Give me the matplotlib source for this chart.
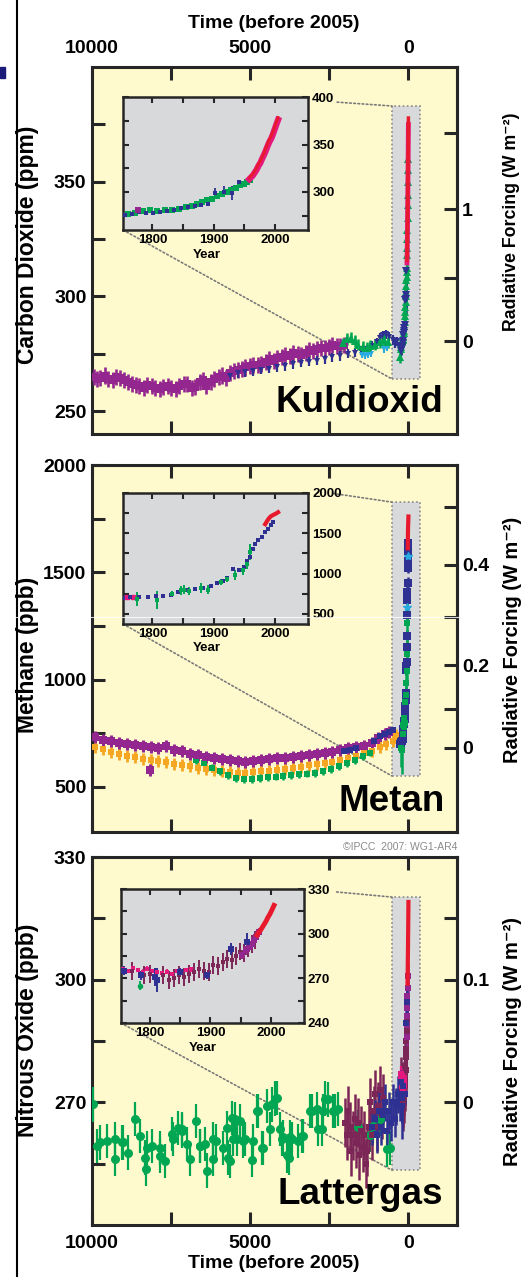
import numpy as np
import matplotlib
matplotlib.use('Agg')
import matplotlib.pyplot as plt
from matplotlib.patches import Rectangle, ConnectionPatch
from matplotlib.lines import Line2D

plt.rcParams['font.family'] = ['Liberation Sans', 'DejaVu Sans']
plt.rcParams['font.weight'] = 'bold'

# ---------------- data: CO2 (ppm) ----------------
co2_edc_bp = [9950, 9850, 9750, 9600, 9500, 9350, 9250, 9100, 9000, 8850, 8750, 8600, 8500, 8350, 8250, 8100,
              8000, 7850, 7750, 7600, 7500, 7350, 7250, 7100, 7000, 6850, 6750, 6600, 6500, 6400, 6250, 6150,
              6000, 5900, 5750, 5650, 5500, 5400, 5250, 5150, 5000, 4900, 4750, 4650, 4500, 4400, 4250, 4150,
              4000, 3900, 3750, 3650, 3500, 3400, 3250, 3150, 3000, 2900, 2750, 2650, 2500, 2400, 2250, 2150, 2050]
co2_edc = [265.0, 264.0, 264.5, 265.5, 264.0, 263.5, 265.0, 264.5, 263.5, 262.5, 262.0, 261.5, 261.0, 260.0,
           261.5, 261.0, 260.0, 259.5, 260.5, 261.0, 260.0, 259.5, 261.0, 262.0, 262.0, 260.0, 260.5, 262.5,
           263.5, 261.0, 262.5, 264.0, 265.0, 265.5, 264.5, 266.5, 267.5, 268.0, 268.5, 269.0, 269.5, 270.0,
           270.0, 270.5, 271.5, 272.5, 272.0, 273.0, 273.5, 274.5, 274.0, 275.5, 275.0, 274.5, 275.5, 276.5,
           276.0, 277.0, 277.5, 277.5, 278.0, 279.0, 278.5, 278.5, 279.0]
co2_law_bp = [5650, 5400, 5150, 4900, 4650, 4400, 4150, 3900, 3650, 3400, 3150, 2900, 2650, 2400, 2150, 1900,
              1700, 1500, 1300, 1150, 1000, 900, 800, 700, 600, 500, 420, 350]
co2_law = [265.5, 266.5, 267.0, 267.5, 268.0, 268.5, 269.0, 269.5, 270.5, 271.0, 271.5, 272.0, 272.5, 273.5, 274.0,
           275.0, 275.5, 276.5, 277.0, 278.5, 280.0, 282.0, 283.0, 283.5, 282.5, 281.0, 279.5, 280.5]
co2_green_bp = [2080, 1950, 1820, 1700, 1580, 1450, 1320, 1200, 1050, 900, 760, 640, 275]
co2_green = [279.5, 281.5, 282.0, 280.5, 279.0, 278.0, 277.5, 278.5, 279.0, 280.0, 281.0, 280.0, 273.5]
co2_cyan_bp = [1480, 1380, 1280, 1180, 760, 680]
co2_cyan = [274.5, 274.0, 274.5, 275.0, 277.0, 277.5]
co2_firn_yr = [1962, 1966, 1970, 1974, 1978, 1981, 1984, 1987, 1990, 1993]
co2_firn = [318, 321, 325, 329, 334, 340, 344, 350, 355, 360]

co2_ins_navy_yr = [1755, 1766, 1778, 1790, 1801, 1812, 1824, 1836, 1847, 1858, 1869, 1880, 1890, 1902, 1916, 1930, 1942]
co2_ins_navy = [276.0, 277.0, 278.5, 277.5, 278.0, 278.5, 279.5, 280.5, 283.0, 284.0, 285.0, 286.0, 287.5,
                298.5, 300.5, 299.0, 311.0]
co2_ins_navy_err = [1.5, 1.5, 1.5, 1.5, 1.5, 1.5, 1.5, 1.5, 1.5, 1.5, 1.5, 1.5, 1.5, 5.5, 6.0, 7.0, 1.5]
co2_ins_green_yr = [1760, 1772, 1784, 1796, 1808, 1820, 1832, 1843, 1854, 1864, 1873, 1881, 1889, 1897, 1905,
                    1913, 1921, 1929, 1936, 1943, 1949, 1954, 1959]
co2_ins_green = [277.0, 278.0, 279.5, 280.5, 280.0, 281.0, 281.5, 282.5, 284.0, 285.0, 287.0, 289.0, 291.5, 293.0,
                 295.5, 297.5, 300.0, 302.0, 304.5, 307.0, 308.5, 310.5, 312.5]
co2_ins_pink_yr = [1777]
co2_ins_pink = [281.0]
co2_ml_yr = [1958, 1961, 1964, 1967, 1970, 1973, 1976, 1979, 1982, 1985, 1988, 1991, 1994, 1997, 2000, 2003, 2005]
co2_ml = [315.0, 317.0, 319.0, 322.0, 325.5, 329.5, 332.5, 337.0, 341.0, 346.0, 351.0, 355.5, 359.0, 364.0,
          369.5, 375.0, 378.5]
co2_sp = [313.5, 315.5, 317.5, 320.5, 323.5, 327.5, 330.5, 335.0, 339.0, 343.5, 348.5, 353.0, 356.5, 361.5,
          367.0, 372.5, 376.0]

# ---------------- data: CH4 (ppb) ----------------
ch4_edc_bp = [9900, 9650, 9400, 9150, 8900, 8650, 8400, 8150, 7900, 7650, 7400, 7150, 6900, 6650, 6400, 6150,
              5900, 5650, 5400, 5150, 4900, 4650, 4400, 4150, 3900, 3650, 3400, 3150, 2900, 2650, 2400, 2150,
              1900, 1650, 1400, 1150, 950, 750, 600, 8180]
ch4_edc = [732, 718, 712, 706, 700, 694, 690, 688, 680, 690, 672, 668, 655, 648, 640, 636, 628, 625, 620, 618,
           622, 626, 630, 636, 634, 640, 644, 648, 652, 658, 664, 672, 680, 686, 692, 706, 728, 745, 756, 578]
ch4_grip_bp = [9900, 9650, 9400, 9150, 8900, 8650, 8400, 8150, 7900, 7650, 7400, 7150, 6900, 6650, 6400, 6150,
               5900, 5650, 5400, 5150, 4900, 4650, 4400, 4150, 3900, 3650, 3400, 3150, 2900, 2650, 2400, 2150,
               1900, 1650, 1400, 1150, 900, 700, 500, 380]
ch4_grip = [686, 676, 664, 652, 645, 638, 632, 626, 622, 615, 608, 602, 596, 590, 585, 580, 575, 570, 566, 565,
            568, 572, 576, 580, 584, 588, 594, 600, 606, 612, 618, 626, 634, 645, 656, 668, 684, 700, 716, 742]
ch4_green_bp = [6700, 6450, 6200, 5950, 5700, 5450, 5200, 4950, 4700, 4450, 4200, 3950, 3700, 3450, 3200, 2950,
                2700, 2450, 2200, 1950, 1700, 1450, 1200]
ch4_green = [626, 612, 590, 572, 556, 540, 536, 538, 540, 544, 548, 552, 556, 558, 562, 565, 572, 582, 596, 610,
             626, 645, 660]
ch4_navy_bp = [2050, 1850, 1650, 1100, 900, 750, 600, 480]
ch4_navy = [668, 674, 682, 712, 735, 748, 758, 765]
ch4_cyan_yr = [1990, 1968]
ch4_cyan = [1575, 1340]

ch4_ins_navy_yr = [1752, 1764, 1778, 1792, 1805, 1818, 1830, 1842, 1856, 1870, 1883, 1895, 1905, 1915, 1921,
                   1932, 1942, 1949, 1955, 1959, 1964, 1968, 1973, 1978, 1983, 1989, 1993, 1997]
ch4_ins_navy = [700, 706, 710, 712, 716, 722, 735, 770, 795, 805, 816, 840, 877, 905, 939, 1062, 1045, 1082,
                1150, 1205, 1300, 1370, 1410, 1451, 1520, 1554, 1600, 1636]
ch4_ins_green_yr = [1775, 1808, 1832, 1846, 1852, 1860, 1880, 1890, 1912, 1921, 1935, 1948, 1955, 1959]
ch4_ins_green = [682, 672, 748, 790, 800, 780, 820, 800, 898, 930, 985, 1040, 1120, 1266]
ch4_ins_green_err = [90, 110, 40, 60, 60, 50, 60, 60, 40, 40, 60, 60, 60, 100]
ch4_ins_pink_yr = [1758, 1768]
ch4_ins_pink = [712, 706]
ch4_red_yr = [1984, 1987, 1990, 1993, 1996, 1999, 2002, 2005]
ch4_red = [1612, 1650, 1684, 1708, 1722, 1734, 1745, 1760]

# ---------------- data: N2O (ppb) ----------------
n2o_green_bp = [9963, 9750, 9540, 9276, 9014, 8856, 8644, 8486, 8328, 8117, 7854, 7696, 7485, 7274, 7168, 7010,
                6905, 6716, 6590, 6432, 6169, 6085, 5853, 5748, 5643, 5485, 5432, 5325, 5168, 4906, 4796, 4748,
                4590, 4485, 4378, 4325, 4218, 4166, 4061, 3977, 3766, 3692, 3482, 3325, 3113, 2902, 2745, 2690,
                2638, 2535, 2375, 2220, 8300, 6370, 5700, 4955, 3850, 5590, 1600, 1200, 900, 585,
                9852, 9270, 9060, 8270, 7850, 7430, 7170, 6590, 6170, 5540, 5225, 4640, 4010, 3745, 3376, 3060,
                2850, 2322, 1112, 689]
n2o_green = [269.5, 260.2, 260.5, 256.1, 260.2, 257.7, 265.9, 261.8, 256.5, 259.3, 258.9, 255.7, 262.2, 263.8,
             263.0, 259.8, 256.1, 265.4, 259.3, 259.8, 256.1, 260.5, 258.9, 263.8, 255.7, 265.9, 261.0, 265.4,
             261.0, 260.5, 267.9, 267.9, 258.9, 269.1, 263.4, 269.5, 270.9, 271.1, 263.4, 261.4, 256.5, 261.0,
             260.5, 261.8, 267.9, 268.3, 263.4, 267.9, 270.9, 270.7, 267.9, 268.3, 253.7, 253.3, 256.5, 255.9,
             257.0, 266.1, 264.0, 262.0, 266.0, 258.9,
             259.3, 261.0, 260.2, 258.9, 256.8, 261.0, 263.4, 259.3, 261.0, 261.0, 260.5, 258.9, 261.0, 261.4,
             261.8, 267.9, 263.4, 267.9, 264.3, 258.5]
n2o_maroon_bp = [2000, 1950, 1900, 1850, 1800, 1750, 1700, 1650, 1600, 1550, 1500, 1450, 1400, 1350, 1300, 1250,
                 1200, 1150, 1100, 1050, 1000, 950, 900, 850, 800]
n2o_maroon = [265, 262, 268, 264, 258, 262, 266, 260, 265, 257, 263, 259, 262, 255, 258, 264, 270, 262, 268, 272,
              264, 269, 273, 267, 271]
n2o_navy_bp = [1150, 1050, 980, 920, 860, 800, 740, 680, 620, 560, 500, 440, 380, 330, 280]
n2o_navy = [264, 266, 262, 268, 264, 267, 270, 263, 268, 265, 270, 266, 269, 272, 270]

n2o_ins_pink_yr = [1756, 1764, 1772, 1780, 1788, 1796, 1804, 1812, 1820, 1828, 1836, 1844, 1852, 1860, 1868]
n2o_ins_pink = [276.0, 275.0, 277.0, 275.5, 274.5, 276.5, 275.0, 274.0, 273.5, 274.5, 273.0, 275.0, 274.0,
                275.5, 276.0]
n2o_ins_navy_yr = [1757, 1785, 1808, 1812, 1849, 1894, 1934, 1961]
n2o_ins_navy = [275.0, 272.0, 271.0, 269.0, 274.0, 272.0, 289.5, 294.5]
n2o_ins_navy_err = [3, 3, 6, 8, 3, 2.5, 4, 6]
n2o_ins_green_yr = [1784]
n2o_ins_green = [265.0]
n2o_ins_maroon_yr = [1770, 1790, 1800, 1810, 1822, 1832, 1840, 1848, 1857, 1865, 1873, 1881, 1889, 1897, 1905,
                     1913, 1920, 1928, 1935, 1942, 1949, 1956, 1962, 1968, 1974]
n2o_ins_maroon = [275, 272, 273, 271, 272, 269, 270, 272, 271, 273, 274, 276, 275, 274, 279, 278, 281, 283, 282,
                  285, 288, 287, 290, 293, 296]
n2o_ins_purple_yr = [1952, 1958, 1963, 1968, 1972, 1976, 1980]
n2o_ins_purple = [286, 289, 291, 293, 296, 298, 301]
n2o_red_yr = [1977, 1980, 1983, 1986, 1989, 1992, 1995, 1998, 2001, 2005]
n2o_red = [299, 301, 302.5, 304.5, 306.5, 308.5, 311, 313, 315.5, 319]

# ---------------- style ----------------
W, H = 527, 1277
YELLOW = '#FFFACD'
GREY = '#D7D9DA'
DARK = '#262626'
PURPLE = '#93278F'
NAVY = '#2E3192'
GREEN = '#00A651'
CYAN = '#29ABE2'
RED = '#E8192C'
PINK = '#E5197D'
ORANGE = '#F5A623'
MAROON = '#7C2658'


def bp(years):
    return 2005 - np.asarray(years, dtype=float)


def eb(a, x, y, err, color, marker, ms, cap, lw=1.5, z=3):
    a.errorbar(x, y, yerr=err, fmt=marker, color=color, ecolor=color, ms=ms, mew=0,
               capsize=cap, capthick=lw, elinewidth=lw, zorder=z)


def panel(top, bottom):
    a = fig.add_axes([92 / W, 1 - bottom / H, 365 / W, (bottom - top) / H])
    a.set_facecolor(YELLOW)
    for s in a.spines.values():
        s.set_linewidth(2.2)
        s.set_color(DARK)
    a.set_xlim(10000, -1535)
    a.set_xticks([10000, 7500, 5000, 2500, 0], ['10000', '', '5000', '', '0'])
    a.tick_params(axis='both', direction='in', length=9.5, width=2.2, color=DARK, top=True, right=False,
                  labelsize=14, labelbottom=False, labeltop=False)
    a.tick_params(axis='y', pad=4)
    a.tick_params(axis='x', pad=7)
    return a


def rf_axis(a, fwd, inv, ticks, labels):
    sec = a.secondary_yaxis('right', functions=(fwd, inv))
    sec.set_yticks(ticks, labels)
    sec.tick_params(direction='in', length=9.5, width=2.2, color=DARK, labelsize=14, pad=3.5)
    sec.spines['right'].set_linewidth(2.2)
    sec.spines['right'].set_color(DARK)
    return sec


def inset(a, rect, ylim, yt, ytl):
    ins = a.inset_axes(rect)
    ins.set_zorder(5)
    ins.set_facecolor(GREY)
    for s in ins.spines.values():
        s.set_linewidth(1.8)
        s.set_color(DARK)
    ins.set_xlim(1752, 2054)
    ins.set_ylim(*ylim)
    ins.set_xticks([1800, 1900, 2000])
    ins.set_xticks([1850, 1950], minor=True)
    ins.set_yticks(yt, ytl)
    ins.tick_params(which='both', direction='in', length=4, width=1.5, color=DARK, top=True, right=True,
                    left=True, labelleft=False, labelright=True, labelsize=9.5, pad=3)
    ins.set_xlabel('Year', fontsize=9.5, fontweight='bold')
    ins.xaxis.set_label_coords(0.45, -0.14)
    return ins


def zoom_box(a, ins, box, top_anchor):
    x0, x1, y0, y1 = box
    a.add_patch(Rectangle((x0, y0), x1 - x0, y1 - y0, facecolor=GREY, edgecolor='#8a8a8a',
                          ls=(0, (1, 1.5)), lw=1.2, zorder=1))
    for xa, xb in [(top_anchor, (x0, y1)), ((0, 0), (x0, y0))]:
        cp = ConnectionPatch(xyA=xa, coordsA=ins.transAxes, xyB=xb, coordsB=a.transData,
                             color='#7a7a7a', lw=1.2, ls=(0, (1, 1.5)), zorder=2)
        cp.set_clip_on(False)
        a.add_artist(cp)


fig = plt.figure(figsize=(W / 100, H / 100), dpi=100)

# ================= CO2 =================
ax1 = panel(67, 434)
ax1.set_ylim(240, 400)
ax1.set_yticks([250, 275, 300, 325, 350, 375], ['250', '', '300', '', '350', ''])
ax1.tick_params(axis='x', labeltop=True)
rf_axis(ax1, lambda c: 5.35 * np.log(np.clip(c, 1, None) / 280.4), lambda r: 280.4 * np.exp(r / 5.35),
        [0, 0.5, 1, 1.5], ['0', '', '1', ''])
in1 = inset(ax1, [0.085, 0.556, 0.507, 0.362], (260, 400), [275, 300, 325, 350, 375, 400],
            ['', '300', '', '350', '', '400'])
zoom_box(ax1, in1, (520, -370, 264, 383), (1.157, 0.962))

eb(ax1, co2_edc_bp, co2_edc, 3.5, PURPLE, 's', 6, 4.5, lw=1.9)
eb(ax1, co2_law_bp, co2_law, 2.0, NAVY, 'v', 5, 3.5, lw=1.6)
eb(ax1, co2_cyan_bp, co2_cyan, 1.5, CYAN, 'v', 5, 3, lw=1.5)
eb(ax1, co2_green_bp, co2_green, 2.5, GREEN, '^', 6, 4, lw=1.8)
eb(ax1, bp(co2_ins_green_yr), co2_ins_green, 2.5, GREEN, '^', 6, 4.5, lw=1.8)
eb(ax1, bp(co2_firn_yr), co2_firn, 2.0, GREEN, '^', 6, 4.5, lw=1.8)
eb(ax1, bp(co2_ins_navy_yr), co2_ins_navy, co2_ins_navy_err, NAVY, 'v', 5.5, 4, lw=1.8)
ax1.plot(bp(co2_ml_yr), co2_sp, color=PINK, lw=3.5, zorder=4, solid_capstyle='butt')
ax1.plot(bp(co2_ml_yr), co2_ml, color=RED, lw=2.5, zorder=4, solid_capstyle='butt')

eb(in1, co2_ins_green_yr, co2_ins_green, 1.5, GREEN, 's', 4.5, 2, lw=1.5)
eb(in1, co2_ins_navy_yr, co2_ins_navy, co2_ins_navy_err, NAVY, 's', 3.5, 2.5, lw=1.3)
eb(in1, co2_ins_pink_yr, co2_ins_pink, 2.5, PURPLE, 's', 4, 2, lw=1.3)
in1.plot(co2_ml_yr, co2_sp, color=PINK, lw=4.5, zorder=4)
in1.plot(co2_ml_yr, co2_ml, color=RED, lw=2, zorder=4)

ax1.text(0.9616, 0.0608, 'Kuldioxid', transform=ax1.transAxes, ha='right', va='baseline',
         fontsize=26.5, fontweight='bold', zorder=6)

# ================= CH4 =================
ax2 = panel(465, 832)
ax2.set_ylim(290, 2000)
ax2.set_yticks([500, 750, 1000, 1250, 1500, 1750, 2000], ['500', '', '1000', '', '1500', '', '2000'])
rf_axis(ax2, lambda m: 0.0306 * (np.sqrt(np.clip(m, 0, None)) - np.sqrt(682.0)),
        lambda r: (r / 0.0306 + np.sqrt(682.0)) ** 2,
        [0, 0.1, 0.2, 0.3, 0.4, 0.5], ['0', '', '0.2', '', '0.4', ''])
in2 = inset(ax2, [0.085, 0.567, 0.507, 0.357], (375, 2000), [500, 750, 1000, 1250, 1500, 1750, 2000],
            ['500', '', '1000', '', '1500', '', '2000'])
zoom_box(ax2, in2, (520, -370, 551, 1827), (1.135, 0.996))

eb(ax2, ch4_grip_bp, ch4_grip, 28, ORANGE, 's', 5, 4.5, lw=2)
eb(ax2, ch4_green_bp, ch4_green, 18, GREEN, 's', 4, 4, lw=1.8)
eb(ax2, ch4_edc_bp, ch4_edc, 28, PURPLE, 's', 6, 4.5, lw=2.2)
eb(ax2, ch4_navy_bp, ch4_navy, 15, NAVY, 's', 4.5, 3, lw=1.6)
eb(ax2, bp(ch4_ins_navy_yr), ch4_ins_navy, 25, NAVY, 's', 5.5, 4, lw=1.8)
eb(ax2, bp(ch4_ins_green_yr), ch4_ins_green, ch4_ins_green_err, GREEN, 's', 5, 4.5, lw=1.8)
ax2.plot(bp(ch4_cyan_yr), ch4_cyan, '*', color=CYAN, ms=6, zorder=4)
ax2.plot(bp(ch4_red_yr), ch4_red, color=RED, lw=3, zorder=4)

eb(in2, ch4_ins_navy_yr, ch4_ins_navy, 15, NAVY, 's', 3.5, 1.5, lw=1.3)
eb(in2, ch4_ins_green_yr, ch4_ins_green, ch4_ins_green_err, GREEN, 's', 3.5, 2.5, lw=1.4)
in2.plot(ch4_ins_pink_yr, ch4_ins_pink, 's', color=PINK, ms=3.5, zorder=3)
in2.plot(ch4_red_yr, ch4_red, color=RED, lw=3, zorder=4)

ax2.text(0.967, 0.058, 'Metan', transform=ax2.transAxes, ha='right', va='baseline',
         fontsize=26.5, fontweight='bold', zorder=6)

# ================= N2O =================
ax3 = panel(857, 1225)
ax3.set_ylim(240, 330)
ax3.set_yticks([255, 270, 285, 300, 315, 330], ['', '270', '', '300', '', '330'])
ax3.tick_params(axis='x', labelbottom=True)
rf_axis(ax3, lambda n: (n - 270.0) / 300.0, lambda r: 270.0 + 300.0 * r,
        [0, 0.05, 0.1, 0.15], ['0', '', '0.1', ''])
in3 = inset(ax3, [0.079, 0.549, 0.501, 0.364], (240, 330), [240, 255, 270, 285, 300, 315, 330],
            ['240', '', '270', '', '300', '', '330'])
zoom_box(ax3, in3, (520, -370, 253.4, 320.2), (1.18, 0.978))

eb(ax3, n2o_green_bp, n2o_green, 4.2, GREEN, 'o', 6.5, 4.5, lw=1.6)
eb(ax3, n2o_maroon_bp, n2o_maroon, 6, MAROON, 's', 4, 4.5, lw=1.8)
eb(ax3, n2o_navy_bp, n2o_navy, 4.5, NAVY, 's', 4.5, 4, lw=1.8)
eb(ax3, bp(n2o_ins_maroon_yr), n2o_ins_maroon, 6, MAROON, 's', 4.5, 4.5, lw=1.8)
eb(ax3, bp(n2o_ins_pink_yr), n2o_ins_pink, 2, PINK, 's', 4.5, 4, lw=1.6)
eb(ax3, bp(n2o_ins_purple_yr), n2o_ins_purple, 3, PURPLE, 's', 5, 4.5, lw=1.8)
eb(ax3, bp(n2o_ins_navy_yr), n2o_ins_navy, n2o_ins_navy_err, NAVY, 's', 5, 4.5, lw=1.8)
ax3.plot(bp(n2o_red_yr), n2o_red, color=RED, lw=3, zorder=4)

eb(in3, n2o_ins_pink_yr, n2o_ins_pink, 1.5, PINK, 's', 3.5, 2, lw=1.3)
eb(in3, n2o_ins_maroon_yr, n2o_ins_maroon, 6, MAROON, 's', 3.5, 2.5, lw=1.4)
eb(in3, n2o_ins_purple_yr, n2o_ins_purple, 3, PURPLE, 's', 4, 2, lw=1.4)
eb(in3, n2o_ins_navy_yr, n2o_ins_navy, n2o_ins_navy_err, NAVY, 's', 4, 2.5, lw=1.4)
eb(in3, n2o_ins_green_yr, n2o_ins_green, 3, GREEN, 'o', 4, 2, lw=1.3)
in3.plot(n2o_red_yr, n2o_red, color=RED, lw=3.5, zorder=4)

ax3.text(0.9616, 0.0563, 'Lattergas', transform=ax3.transAxes, ha='right', va='baseline',
         fontsize=26.5, fontweight='bold', zorder=6)

# ================= labels / decorations =================
def ftext(x, y, s, **kw):
    return fig.text(x / W, 1 - y / H, s, **kw)


ftext(274, 23, 'Time (before 2005)', ha='center', va='center', fontsize=14)
ftext(274, 1263, 'Time (before 2005)', ha='center', va='center', fontsize=14)
ftext(28, 245, 'Carbon Dioxide (ppm)', ha='center', va='center', rotation=90, fontsize=16.5)
ftext(28, 655, 'Methane (ppb)', ha='center', va='center', rotation=90, fontsize=16.5)
ftext(28, 1030, 'Nitrous Oxide (ppb)', ha='center', va='center', rotation=90, fontsize=16.5)

# right-hand labels: size them so their length matches the reference (px)
rf_label = 'Radiative Forcing (W m\u207b\u00b2)'
rf_texts = []
for yc, length in ((222, 218), (640, 246), (1041, 248)):
    t = ftext(512, yc, rf_label, ha='center', va='center', rotation=90, fontsize=13)
    rf_texts.append((t, length))
fig.canvas.draw()
renderer = fig.canvas.get_renderer()
for t, length in rf_texts:
    h = t.get_window_extent(renderer).height
    t.set_fontsize(t.get_fontsize() * length / h)

ftext(457, 847, '\u00a9IPCC  2007: WG1-AR4', ha='right', va='center', fontsize=7.5,
      fontweight='normal', color='#8a8a8a')

fig.add_artist(Line2D([17 / W, 17 / W], [0, 1], color='black', lw=1.5))
fig.add_artist(Rectangle((0, 1 - 78 / H), 5 / W, 11 / H, color='#1B1B7A', transform=fig.transFigure))
fig.add_artist(Line2D([0, 1], [1 - 617 / H, 1 - 617 / H], color='white', lw=0.8, alpha=0.8))

fig.savefig('out.png', dpi=100)
